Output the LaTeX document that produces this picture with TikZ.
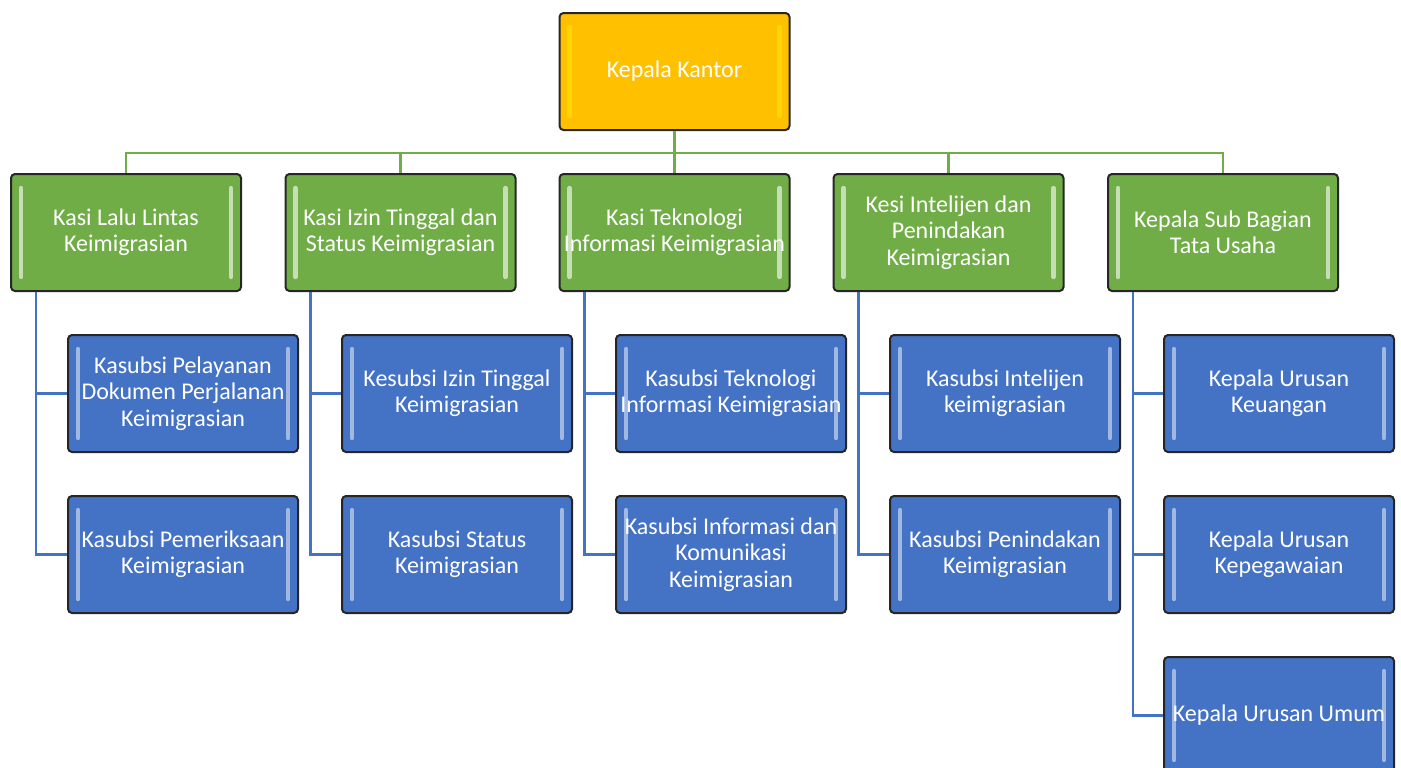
\documentclass[tikz,border=0pt]{standalone}
\usepackage{fontspec}
\setmainfont{Carlito}
\usetikzlibrary{positioning}

\definecolor{gold}{HTML}{FFC000}
\definecolor{leaf}{HTML}{70AD47}
\definecolor{sea}{HTML}{4472C4}

\tikzset{
  unit/.style={draw=black!85, line width=1pt, rounded corners=2pt,
    minimum width=115pt, minimum height=58.5pt, inner sep=0pt,
    align=center, text=white, font=\fontsize{12}{13.2}\selectfont,
    path picture={
      \draw[#1, line width=2.2pt, line cap=round]
        ([xshift=5pt,yshift=-7pt]path picture bounding box.north west) --
        ([xshift=5pt,yshift=7pt]path picture bounding box.south west);
      \draw[#1, line width=2.2pt, line cap=round]
        ([xshift=-5pt,yshift=-7pt]path picture bounding box.north east) --
        ([xshift=-5pt,yshift=7pt]path picture bounding box.south east);
    }},
  head/.style={unit=yellow!50!gold, fill=gold},
  kasi/.style={unit=leaf!40, fill=leaf},
  subsi/.style={unit=sea!50, fill=sea},
  greenlink/.style={draw=leaf, line width=1.4pt},
  bluelink/.style={draw=sea, line width=1.4pt}
}

\begin{document}
\begin{tikzpicture}[x=0.5pt, y=-0.5pt]
  \useasboundingbox (0,0) rectangle (1401,767);

  % kepala kantor
  \node[head] (kantor) at (674.5,71.5) {Kepala Kantor};

  % kasi row
  \node[kasi] (lalu)   at (126,232.5)   {Kasi Lalu Lintas\\Keimigrasian};
  \node[kasi] (izin)   at (400.5,232.5) {Kasi Izin Tinggal dan\\Status Keimigrasian};
  \node[kasi] (tekno)  at (674.5,232.5) {Kasi Teknologi\\Informasi Keimigrasian};
  \node[kasi] (intel)  at (948.5,232.5) {Kesi Intelijen dan\\Penindakan\\Keimigrasian};
  \node[kasi] (tu)     at (1223,232.5)  {Kepala Sub Bagian\\Tata Usaha};

  % subsi rows
  \node[subsi] (dokumen)  at (183,393.5)  {Kasubsi Pelayanan\\Dokumen Perjalanan\\Keimigrasian};
  \node[subsi] (periksa)  at (183,554.5)  {Kasubsi Pemeriksaan\\Keimigrasian};
  \node[subsi] (izinsub)  at (457,393.5)  {Kesubsi Izin Tinggal\\Keimigrasian};
  \node[subsi] (status)   at (457,554.5)  {Kasubsi Status\\Keimigrasian};
  \node[subsi] (teknosub) at (731,393.5)  {Kasubsi Teknologi\\Informasi Keimigrasian};
  \node[subsi] (komuni)   at (731,554.5)  {Kasubsi Informasi dan\\Komunikasi\\Keimigrasian};
  \node[subsi] (intelsub) at (1005,393.5) {Kasubsi Intelijen\\keimigrasian};
  \node[subsi] (tindak)   at (1005,554.5) {Kasubsi Penindakan\\Keimigrasian};
  \node[subsi] (uang)     at (1279,393.5) {Kepala Urusan\\Keuangan};
  \node[subsi] (pegawai)  at (1279,554.5) {Kepala Urusan\\Kepegawaian};
  \node[subsi] (umum)     at (1279,715.5) {Kepala Urusan Umum};

  % green links
  \foreach \k in {lalu,izin,tekno,intel,tu}
    \draw[greenlink] (kantor.south) -- ++(0,22) -| (\k.north);

  % blue links
  \foreach \k/\s in {lalu/dokumen,lalu/periksa,izin/izinsub,izin/status,
                     tekno/teknosub,tekno/komuni,intel/intelsub,intel/tindak,
                     tu/uang,tu/pegawai,tu/umum}
    \draw[bluelink] ([xshift=-45pt]\k.south) |- (\s.west);
\end{tikzpicture}
\end{document}
